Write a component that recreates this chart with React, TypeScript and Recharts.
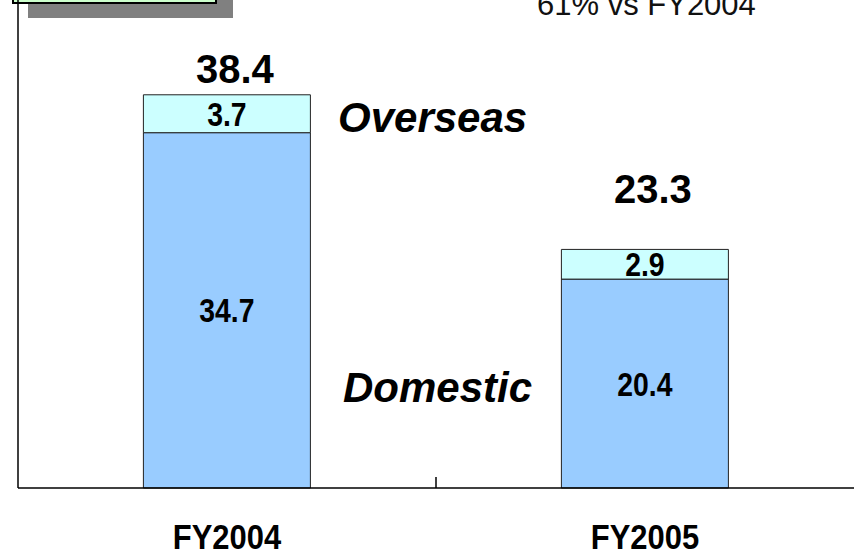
import React from "react";
import { BarChart, Bar, XAxis, YAxis, LabelList } from "recharts";

const categories = ["FY2004", "FY2005"];
const domestic = [34.7, 20.4];
const overseas = [3.7, 2.9];
const totals = [38.4, 23.3];
const seriesNames = ["Domestic", "Overseas"];
const headerNote = "61% vs FY2004";

const data = categories.map((c, i) => ({
  name: c,
  domestic: domestic[i],
  overseas: overseas[i],
  total: totals[i],
}));

const W = 854;
const H = 581;
const SHIFT = 24;
const MARGIN = { top: 0, right: 0, bottom: 0, left: 0 };
const Y_AXIS_W = 18;
const X_AXIS_H = 69;
const totalBaselineLift = [12, 46];

const sans = "'Liberation Sans', Arial, sans-serif";

const halfBand = (W - MARGIN.left - MARGIN.right - Y_AXIS_W) / categories.length / 2;

const NarrowText = ({ cx, y, size, squeeze, children }: any) => (
  <text
    transform={`translate(${cx}, ${y}) scale(${squeeze}, 1)`}
    x={0}
    y={0}
    textAnchor="middle"
    fontFamily={sans}
    fontWeight="bold"
    fontSize={size}
    fill="#000"
  >
    {children}
  </text>
);

const XTick = (props: any) => {
  const { x, y, payload, index } = props;
  return (
    <g>
      <NarrowText cx={x} y={y + 61} size={36} squeeze={0.86}>
        {payload.value}
      </NarrowText>
      {index < categories.length - 1 && (
        <line x1={x + halfBand} x2={x + halfBand} y1={y} y2={y - 11} stroke="#000" strokeWidth={1.5} />
      )}
    </g>
  );
};

const ValueLabel = (props: any) => {
  const { x, y, width, height, value } = props;
  return (
    <NarrowText cx={x + width / 2} y={y + height / 2 + 12} size={33} squeeze={0.86}>
      {value}
    </NarrowText>
  );
};

const TotalLabel = (props: any) => {
  const { x, y, width, index, value } = props;
  return (
    <text
      x={x + width / 2 + 8}
      y={y - totalBaselineLift[index]}
      textAnchor="middle"
      fontFamily={sans}
      fontWeight="bold"
      fontSize={40}
      fill="#000"
    >
      {value}
    </text>
  );
};

export default function App() {
  return (
    <div
      style={{
        position: "absolute",
        left: 0,
        top: 0,
        width: 854,
        height: 557,
        overflow: "hidden",
        background: "#fff",
      }}
    >
      <div style={{ position: "absolute", left: 28, top: -10, width: 205, height: 28, background: "#808080" }} />
      <div
        style={{
          position: "absolute",
          left: 12,
          top: -20,
          width: 201,
          height: 20,
          background: "#CCFFCC",
          border: "2px solid #000",
        }}
      />
      <div style={{ position: "absolute", left: 0, top: -SHIFT, width: W, height: H }}>
        <BarChart width={W} height={H} data={data} margin={MARGIN} barCategoryGap="30%">
          <XAxis
            dataKey="name"
            height={X_AXIS_H}
            axisLine={{ stroke: "#000", strokeWidth: 1.5 }}
            tickLine={false}
            tickSize={0}
            tickMargin={0}
            tick={<XTick />}
            interval={0}
          />
          <YAxis
            width={Y_AXIS_W}
            domain={[0, 50]}
            tick={false}
            tickLine={false}
            axisLine={{ stroke: "#000", strokeWidth: 1.5 }}
          />
          <Bar
            dataKey="domestic"
            name={seriesNames[0]}
            stackId="a"
            fill="#99CCFF"
            stroke="#222"
            strokeWidth={1}
            isAnimationActive={false}
          >
            <LabelList dataKey="domestic" content={<ValueLabel />} />
          </Bar>
          <Bar
            dataKey="overseas"
            name={seriesNames[1]}
            stackId="a"
            fill="#CCFFFF"
            stroke="#222"
            strokeWidth={1}
            isAnimationActive={false}
          >
            <LabelList dataKey="overseas" content={<ValueLabel />} />
            <LabelList dataKey="total" content={<TotalLabel />} />
          </Bar>
        </BarChart>
      </div>
      <svg
        width={854}
        height={557}
        style={{ position: "absolute", left: 0, top: 0, pointerEvents: "none" }}
      >
        <text x={537} y={15} fontFamily={sans} fontSize={31} fill="#111">
          {headerNote}
        </text>
        <text x={338} y={132} fontFamily={sans} fontWeight="bold" fontStyle="italic" fontSize={42} fill="#000">
          {seriesNames[1]}
        </text>
        <text x={343} y={402} fontFamily={sans} fontWeight="bold" fontStyle="italic" fontSize={42} fill="#000">
          {seriesNames[0]}
        </text>
      </svg>
    </div>
  );
}
